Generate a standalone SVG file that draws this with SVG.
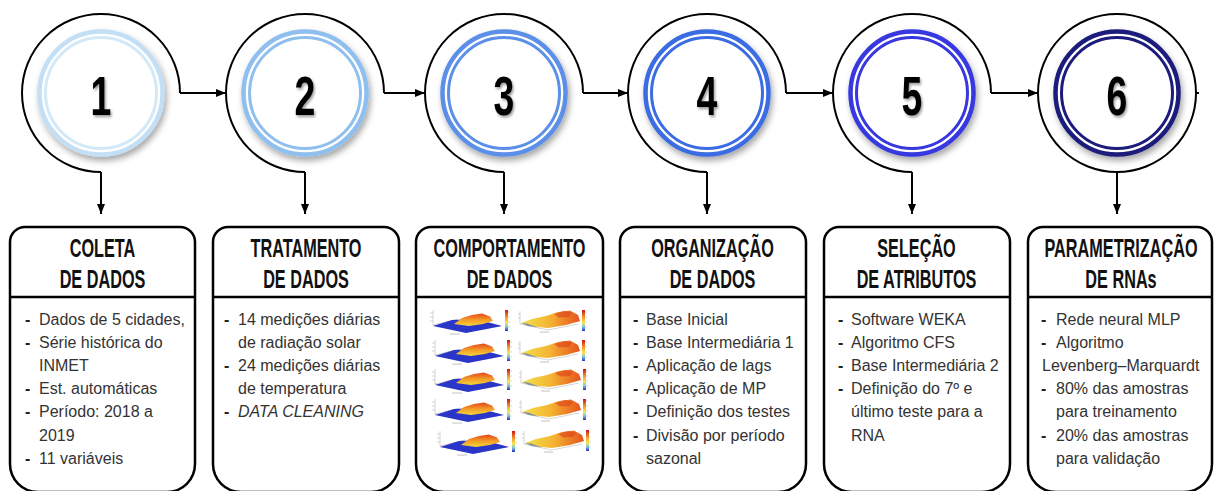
<svg xmlns="http://www.w3.org/2000/svg" xmlns:xlink="http://www.w3.org/1999/xlink" width="1214" height="491" viewBox="0 0 1214 491">
<style>
.hd{font-family:"Liberation Sans",Arial,sans-serif;font-weight:bold;font-size:25px;fill:#111;text-anchor:middle}
.num{font-family:"Liberation Sans",Arial,sans-serif;font-weight:bold;font-size:55px;fill:#000;text-anchor:middle}
.tx{font-family:"Liberation Sans",Arial,sans-serif;font-size:16px;fill:#333}
.ds{font-weight:bold;fill:#222}
.it{font-style:italic}
.box{fill:#fff;stroke:#000;stroke-width:2.5}
.div{stroke:#000;stroke-width:2.5}
.con{fill:none;stroke:#000;stroke-width:2}
.ro{fill:none;stroke-width:4.5}
.ri{fill:none;stroke-width:3}
.ax{stroke:#b8b8b8;stroke-width:0.6;fill:none}
</style>
<defs>
<marker id="ah" viewBox="0 0 10 10" refX="10" refY="5" markerWidth="10" markerHeight="10" markerUnits="userSpaceOnUse" orient="auto"><path d="M0,1 L10,5 L0,9 z" fill="#000"/></marker>
<filter id="sh" x="-20%" y="-20%" width="150%" height="150%"><feDropShadow dx="2" dy="4" stdDeviation="3" flood-color="#000" flood-opacity="0.35"/></filter>
<filter id="tsh" x="-30%" y="-30%" width="170%" height="170%"><feDropShadow dx="2" dy="2" stdDeviation="1.5" flood-color="#000" flood-opacity="0.4"/></filter>
<linearGradient id="gA" x1="0" y1="0" x2="0" y2="1"><stop offset="0" stop-color="#e4441c"/><stop offset="0.5" stop-color="#f39a26"/><stop offset="1" stop-color="#f6d63c"/></linearGradient>
<linearGradient id="gB" x1="0" y1="0" x2="1" y2="0"><stop offset="0" stop-color="#f2e24c"/><stop offset="0.5" stop-color="#f4b232"/><stop offset="1" stop-color="#e5521c"/></linearGradient>
<linearGradient id="cb" x1="0" y1="0" x2="0" y2="1"><stop offset="0" stop-color="#c8141c"/><stop offset="0.35" stop-color="#f59a2a"/><stop offset="0.6" stop-color="#f8e44a"/><stop offset="0.8" stop-color="#7fc7d8"/><stop offset="1" stop-color="#2430c8"/></linearGradient>
<g id="plotA">
<path class="ax" d="M3,2 V17 L36,24 L70,18 M3,17 L28,11 M0,5 H3 M0,9 H3 M0,13 H3"/>
<path d="M3,18 L36,25 L72,18 L46,11 L22,12 Z" fill="#2a36c8"/>
<path d="M24,16 L32,10 L42,7 L52,5.5 L60,8.5 L63,13 L53,16 L39,18 Z" fill="url(#gA)"/>
<rect x="20" y="25.5" width="10" height="1.1" fill="#c8c8c8"/>
<rect x="75" y="2" width="3" height="21" fill="url(#cb)"/>
<path class="ax" d="M78,4 H80 M78,9 H80 M78,14 H80 M78,19 H80"/>
</g>
<g id="plotB">
<path class="ax" d="M2,3 V16 L30,22 L60,16 M0,6 H2 M0,10 H2"/>
<path d="M3,15 L14,11 L28,8 L40,4 L52,2.5 L60,7 L62,13 L48,17 L30,20 L10,18 Z" fill="url(#gB)"/>
<path d="M36,6 L46,3 L54,4.5 L51,9 L41,9.5 Z" fill="#df3f1a" opacity="0.6"/>
<path d="M3,15 L10,18 L20,19.5 L9,15.5 Z" fill="#7f8fa8"/>
<rect x="22" y="23.5" width="9" height="1.1" fill="#c8c8c8"/>
<rect x="64" y="2" width="3" height="21" fill="url(#cb)"/>
<path class="ax" d="M67,4 H69 M67,9 H69 M67,14 H69 M67,19 H69"/>
</g>
</defs>
<rect width="1214" height="491" fill="#fff"/>

<g id="connectors">
<path class="con" d="M180,93 A79,79 0 1 0 101,172"/>
<path class="con" d="M384,93 A79,79 0 1 0 305,172"/>
<path class="con" d="M583,93 A79,79 0 1 0 504,172"/>
<path class="con" d="M786,93 A79,79 0 1 0 707,172"/>
<path class="con" d="M991,93 A79,79 0 1 0 912,172"/>
<circle class="con" cx="1117" cy="93" r="79"/>
<path class="con" d="M1196,93 H1199"/>
<path class="con" d="M180,93 H226" marker-end="url(#ah)"/>
<path class="con" d="M384,93 H425" marker-end="url(#ah)"/>
<path class="con" d="M583,93 H628" marker-end="url(#ah)"/>
<path class="con" d="M786,93 H833" marker-end="url(#ah)"/>
<path class="con" d="M991,93 H1038" marker-end="url(#ah)"/>
<path class="con" d="M101,172 V214" marker-end="url(#ah)"/>
<path class="con" d="M305,172 V214" marker-end="url(#ah)"/>
<path class="con" d="M504,172 V214" marker-end="url(#ah)"/>
<path class="con" d="M707,172 V214" marker-end="url(#ah)"/>
<path class="con" d="M912,172 V214" marker-end="url(#ah)"/>
<path class="con" d="M1117,172 V214" marker-end="url(#ah)"/>
</g>

<g id="step1">
<g filter="url(#sh)"><circle cx="101" cy="93" r="61.5" fill="#fff"/><circle class="ro" cx="101" cy="93" r="61.5" stroke="#c3dff5"/><circle class="ri" cx="101" cy="93" r="55.5" stroke="#d3e9f8"/></g>
<text class="num" filter="url(#tsh)" transform="translate(101,115) scale(0.68,1)">1</text>
<path class="box" d="M25,227 H180 A15,15 0 0 1 195,242 V464 A28,28 0 0 1 167,492 H38 A28,28 0 0 1 10,464 V242 A15,15 0 0 1 25,227 Z"/>
<line class="div" x1="10" y1="297" x2="195" y2="297"/>
<text class="hd" transform="translate(102.5,257) scale(0.65,1)">COLETA</text>
<text class="hd" transform="translate(102.5,288) scale(0.65,1)">DE DADOS</text>
<g class="tx">
<text class="ds" x="25" y="324.5">-</text><text x="39" y="324.5">Dados de 5 cidades,</text>
<text class="ds" x="25" y="347.7">-</text><text x="39" y="347.7">Série histórica do</text>
<text x="39" y="370.9">INMET</text>
<text class="ds" x="25" y="394.1">-</text><text x="39" y="394.1">Est. automáticas</text>
<text class="ds" x="25" y="417.3">-</text><text x="39" y="417.3">Período: 2018 a</text>
<text x="39" y="440.5">2019</text>
<text class="ds" x="25" y="463.7">-</text><text x="39" y="463.7">11 variáveis</text>
</g>
</g>

<g id="step2">
<g filter="url(#sh)"><circle cx="305" cy="93" r="61.5" fill="#fff"/><circle class="ro" cx="305" cy="93" r="61.5" stroke="#8fbfee"/><circle class="ri" cx="305" cy="93" r="55.5" stroke="#8fbfee"/></g>
<text class="num" filter="url(#tsh)" transform="translate(305,115) scale(0.68,1)">2</text>
<path class="box" d="M228,227 H384 A15,15 0 0 1 399,242 V464 A28,28 0 0 1 371,492 H241 A28,28 0 0 1 213,464 V242 A15,15 0 0 1 228,227 Z"/>
<line class="div" x1="213" y1="297" x2="399" y2="297"/>
<text class="hd" transform="translate(306,257) scale(0.65,1)">TRATAMENTO</text>
<text class="hd" transform="translate(306,288) scale(0.65,1)">DE DADOS</text>
<g class="tx">
<text class="ds" x="224" y="324.5">-</text><text x="238" y="324.5">14 medições diárias</text>
<text x="238" y="347.7">de radiação solar</text>
<text class="ds" x="224" y="370.9">-</text><text x="238" y="370.9">24 medições diárias</text>
<text x="238" y="394.1">de temperatura</text>
<text class="ds" x="224" y="417.3">-</text><text class="it" x="238" y="417.3">DATA CLEANING</text>
</g>
</g>

<g id="step3">
<g filter="url(#sh)"><circle cx="504" cy="93" r="61.5" fill="#fff"/><circle class="ro" cx="504" cy="93" r="61.5" stroke="#5c8fe8"/><circle class="ri" cx="504" cy="93" r="55.5" stroke="#5c8fe8"/></g>
<text class="num" filter="url(#tsh)" transform="translate(504,115) scale(0.68,1)">3</text>
<path class="box" d="M431,227 H588 A15,15 0 0 1 603,242 V464 A28,28 0 0 1 575,492 H444 A28,28 0 0 1 416,464 V242 A15,15 0 0 1 431,227 Z"/>
<line class="div" x1="416" y1="297" x2="603" y2="297"/>
<text class="hd" transform="translate(509.5,257) scale(0.65,1)">COMPORTAMENTO</text>
<text class="hd" transform="translate(509.5,288) scale(0.65,1)">DE DADOS</text>
<use xlink:href="#plotA" transform="translate(430,308)"/>
<use xlink:href="#plotB" transform="translate(518,308)"/>
<use xlink:href="#plotA" transform="translate(432,338)"/>
<use xlink:href="#plotB" transform="translate(518,338)"/>
<use xlink:href="#plotA" transform="translate(432,367)"/>
<use xlink:href="#plotB" transform="translate(519,367)"/>
<use xlink:href="#plotA" transform="translate(432,397)"/>
<use xlink:href="#plotB" transform="translate(519,397)"/>
<use xlink:href="#plotA" transform="translate(437,429)"/>
<use xlink:href="#plotB" transform="translate(522,428)"/>
</g>

<g id="step4">
<g filter="url(#sh)"><circle cx="707" cy="93" r="61.5" fill="#fff"/><circle class="ro" cx="707" cy="93" r="61.5" stroke="#3b6ce2"/><circle class="ri" cx="707" cy="93" r="55.5" stroke="#3b6ce2"/></g>
<text class="num" filter="url(#tsh)" transform="translate(707,115) scale(0.68,1)">4</text>
<path class="box" d="M635,227 H791 A15,15 0 0 1 806,242 V464 A28,28 0 0 1 778,492 H648 A28,28 0 0 1 620,464 V242 A15,15 0 0 1 635,227 Z"/>
<line class="div" x1="620" y1="297" x2="806" y2="297"/>
<text class="hd" transform="translate(712.5,257) scale(0.65,1)">ORGANIZAÇÃO</text>
<text class="hd" transform="translate(712.5,288) scale(0.65,1)">DE DADOS</text>
<g class="tx">
<text class="ds" x="633" y="324.5">-</text><text x="646" y="324.5">Base Inicial</text>
<text class="ds" x="633" y="347.7">-</text><text x="646" y="347.7">Base Intermediária 1</text>
<text class="ds" x="633" y="370.9">-</text><text x="646" y="370.9">Aplicação de lags</text>
<text class="ds" x="633" y="394.1">-</text><text x="646" y="394.1">Aplicação de MP</text>
<text class="ds" x="633" y="417.3">-</text><text x="646" y="417.3">Definição dos testes</text>
<text class="ds" x="633" y="440.5">-</text><text x="646" y="440.5">Divisão por período</text>
<text x="646" y="463.7">sazonal</text>
</g>
</g>

<g id="step5">
<g filter="url(#sh)"><circle cx="912" cy="93" r="61.5" fill="#fff"/><circle class="ro" cx="912" cy="93" r="61.5" stroke="#3737e0"/><circle class="ri" cx="912" cy="93" r="55.5" stroke="#3737e0"/></g>
<text class="num" filter="url(#tsh)" transform="translate(912,115) scale(0.68,1)">5</text>
<path class="box" d="M839,227 H995 A15,15 0 0 1 1010,242 V464 A28,28 0 0 1 982,492 H852 A28,28 0 0 1 824,464 V242 A15,15 0 0 1 839,227 Z"/>
<line class="div" x1="824" y1="297" x2="1010" y2="297"/>
<text class="hd" transform="translate(916.5,257) scale(0.65,1)">SELEÇÃO</text>
<text class="hd" transform="translate(916.5,288) scale(0.65,1)">DE ATRIBUTOS</text>
<g class="tx">
<text class="ds" x="838" y="324.5">-</text><text x="851" y="324.5">Software WEKA</text>
<text class="ds" x="838" y="347.7">-</text><text x="851" y="347.7">Algoritmo CFS</text>
<text class="ds" x="838" y="370.9">-</text><text x="851" y="370.9">Base Intermediária 2</text>
<text class="ds" x="838" y="394.1">-</text><text x="851" y="394.1">Definição do 7º e</text>
<text x="851" y="417.3">último teste para a</text>
<text x="851" y="440.5">RNA</text>
</g>
</g>

<g id="step6">
<g filter="url(#sh)"><circle cx="1117" cy="93" r="61.5" fill="#fff"/><circle class="ro" cx="1117" cy="93" r="61.5" stroke="#1b1b7c"/><circle class="ri" cx="1117" cy="93" r="55.5" stroke="#1b1b7c"/></g>
<text class="num" filter="url(#tsh)" transform="translate(1117,115) scale(0.68,1)">6</text>
<path class="box" d="M1043,227 H1197 A15,15 0 0 1 1212,242 V464 A28,28 0 0 1 1184,492 H1056 A28,28 0 0 1 1028,464 V242 A15,15 0 0 1 1043,227 Z"/>
<line class="div" x1="1028" y1="297" x2="1212" y2="297"/>
<text class="hd" transform="translate(1121,257) scale(0.65,1)">PARAMETRIZAÇÃO</text>
<text class="hd" transform="translate(1121,288) scale(0.65,1)">DE RNAs</text>
<g class="tx">
<text class="ds" x="1041" y="324.5">-</text><text x="1056" y="324.5">Rede neural MLP</text>
<text class="ds" x="1041" y="347.7">-</text><text x="1056" y="347.7">Algoritmo</text>
<text x="1042" y="370.9">Levenberg–Marquardt</text>
<text class="ds" x="1041" y="394.1">-</text><text x="1056" y="394.1">80% das amostras</text>
<text x="1056" y="417.3">para treinamento</text>
<text class="ds" x="1041" y="440.5">-</text><text x="1056" y="440.5">20% das amostras</text>
<text x="1056" y="463.7">para validação</text>
</g>
</g>
</svg>
